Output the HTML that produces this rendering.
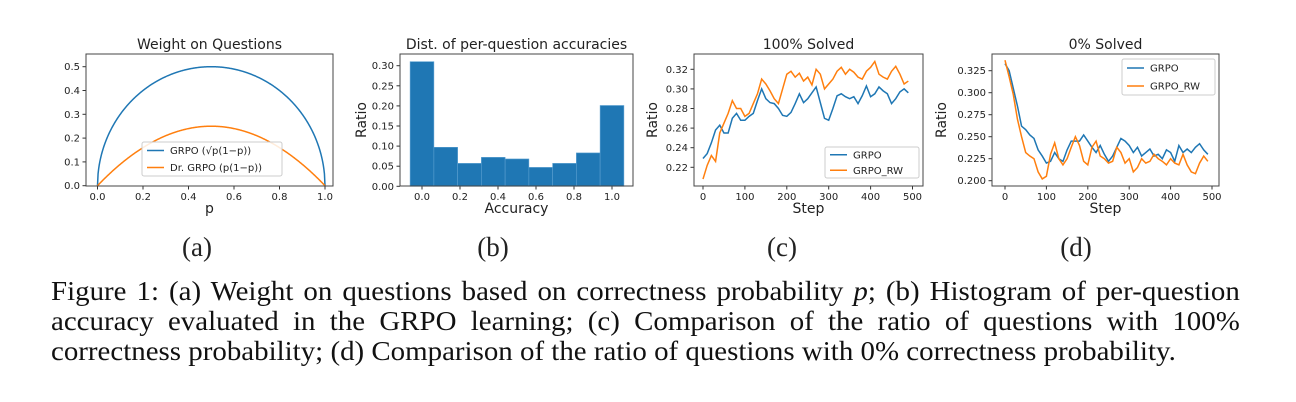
<!DOCTYPE html>
<html><head><meta charset="utf-8"><style>
body{margin:0;background:#fff;width:1296px;height:402px;overflow:hidden;position:relative}
svg text{font-family:"DejaVu Sans","Liberation Sans",sans-serif;fill:#222}
.cap{position:absolute;left:51px;top:276px;width:1110px;transform:scaleX(1.071);transform-origin:0 0;font-family:"Liberation Serif",serif;font-size:27px;line-height:30px;color:#111}
.cap div{white-space:nowrap}
.cap .j{text-align:justify;text-align-last:justify;white-space:normal;height:30px;overflow:visible}
.nw{white-space:nowrap}
</style></head><body>
<svg id="fig" width="1296" height="402" style="position:absolute;left:0;top:0"></svg>
<div class="cap">
<div class="j">Figure 1: (a) Weight on questions based on correctness probability <i>p</i>; (b) Histogram of <span class="nw">per-question</span></div>
<div class="j">accuracy evaluated in the GRPO learning; (c) Comparison of the ratio of questions with 100%</div>
<div>correctness probability; (d) Comparison of the ratio of questions with 0% correctness probability.</div>
</div>
<script>
const histCenters=[0,0.125,0.25,0.375,0.5,0.625,0.75,0.875,1.0];
const histValues=[0.31,0.097,0.057,0.072,0.068,0.047,0.057,0.083,0.201];
const steps=[0,10,20,30,40,50,60,70,80,90,100,110,120,130,140,150,160,170,180,190,200,210,220,230,240,250,260,270,280,290,300,310,320,330,340,350,360,370,380,390,400,410,420,430,440,450,460,470,480,490];
const solved100Grpo=[.229,.234,.245,.258,.263,.255,.255,.270,.275,.268,.268,.272,.275,.288,.300,.290,.286,.285,.280,.273,.272,.276,.285,.295,.286,.290,.296,.302,.286,.270,.268,.280,.293,.295,.292,.290,.292,.285,.293,.303,.292,.295,.302,.298,.295,.285,.290,.297,.300,.296];
const solved100Rw=[.208,.222,.232,.226,.255,.265,.275,.288,.280,.280,.272,.275,.285,.295,.310,.305,.298,.290,.285,.300,.315,.318,.312,.316,.308,.312,.304,.320,.315,.300,.305,.310,.318,.322,.315,.320,.317,.312,.310,.318,.322,.328,.315,.312,.310,.318,.323,.315,.305,.308];
const solved0Grpo=[.333,.325,.305,.285,.262,.258,.252,.248,.235,.228,.220,.222,.232,.225,.222,.235,.245,.245,.245,.252,.245,.238,.232,.240,.230,.222,.228,.238,.248,.245,.240,.232,.238,.228,.232,.236,.228,.230,.225,.235,.232,.222,.240,.232,.236,.232,.238,.242,.235,.230];
const solved0Rw=[.337,.318,.298,.270,.250,.232,.228,.225,.210,.202,.205,.230,.243,.225,.218,.225,.238,.250,.240,.222,.218,.238,.245,.228,.225,.220,.222,.238,.232,.220,.225,.210,.215,.225,.220,.222,.230,.225,.222,.218,.225,.220,.218,.230,.218,.210,.208,.220,.228,.222];
const ticksA_x=[0,0.2,0.4,0.6,0.8,1.0], ticksA_y=[0,0.1,0.2,0.3,0.4,0.5];
const ticksB_x=[0,0.2,0.4,0.6,0.8,1.0], ticksB_y=[0,0.05,0.1,0.15,0.2,0.25,0.3];
const ticksC_x=[0,100,200,300,400,500], ticksC_y=[0.22,0.24,0.26,0.28,0.30,0.32];
const ticksD_x=[0,100,200,300,400,500], ticksD_y=[0.2,0.225,0.25,0.275,0.3,0.325];
const BLUE="#1f77b4",ORANGE="#ff7f0e";
const svg=document.getElementById('fig');const NS="http://www.w3.org/2000/svg";
function mk(tag,at,parent){const e=document.createElementNS(NS,tag);for(const k in at)e.setAttribute(k,at[k]);(parent||svg).appendChild(e);return e;}
function txt(s,x,y,size,anchor,parent){const t=mk('text',{x:x,y:y,'font-size':size,'text-anchor':anchor||'middle'},parent);t.textContent=s;return t;}
function lin(d0,d1,p0,p1){return v=>p0+(v-d0)/(d1-d0)*(p1-p0);}
function axes(name,box,sx,sy,xt,yt,xfmt,yfmt,title,xl,yl,ylx){
 const g=mk('g',{});
 xt.forEach(v=>{const x=sx(v);mk('line',{x1:x,x2:x,y1:box.b,y2:box.b+3.5,stroke:'#333'},g);const t=txt(xfmt(v),x,box.b+14,10,'middle',g);});
 yt.forEach(v=>{const y=sy(v);mk('line',{x1:box.l-3.5,x2:box.l,y1:y,y2:y,stroke:'#333'},g);const t=txt(yfmt(v),box.l-6,y+3.5,10,'end',g);});
 const tt=txt(title,(box.l+box.r)/2,49,14,'middle',g);
 const xa=txt(xl,(box.l+box.r)/2,213,14,'middle',g);
 if(yl){const ya=txt(yl,0,0,14,'middle',g);ya.setAttribute('transform',`translate(${ylx},${(box.t+box.b)/2}) rotate(-90)`);}
 return g;}
function frame(box,g){mk('rect',{x:box.l,y:box.t,width:box.r-box.l,height:box.b-box.t,fill:'none',stroke:'#444','stroke-width':1},g);}
function poly(xs,ys,sx,sy,color,g){return mk('polyline',{points:xs.map((x,i)=>sx(x)+','+sy(ys[i])).join(' '),fill:'none',stroke:color,'stroke-width':1.5},g);}
function legend(g,x,y,w,h,items){const lg=mk('g',{},g);
 mk('rect',{x:x,y:y,width:w,height:h,rx:2,fill:'#fff','fill-opacity':0.85,stroke:'#ccc'},lg);
 items.forEach((it,i)=>{const yy=y+h/(items.length)*(i+0.5);const e=mk('g',{},lg);
 mk('line',{x1:x+5,x2:x+22,y1:yy,y2:yy,stroke:it[1],'stroke-width':1.5},e);txt(it[0],x+28,yy+3.5,10,'start',e);});}
const f1=v=>v.toFixed(1),f2=v=>v.toFixed(2),f3=v=>v.toFixed(3),f0=v=>String(v);
function plab(s,x){const t=txt(s,x,256,27,'middle');t.setAttribute('style','font-family:"Liberation Serif",serif');}
// (a)
{const box={l:86,r:333,t:54,b:186};const sx=lin(0,1,97.5,325),sy=lin(0,0.5,185.7,66.7);
 const g=axes('panel-a-weight',box,sx,sy,ticksA_x,ticksA_y,f1,f1,'Weight on Questions','p',null);
 const ps=[];for(let i=0;i<=400;i++)ps.push(i/400);
 const c1=poly(ps,ps.map(p=>Math.sqrt(p*(1-p))),sx,sy,BLUE,g);
 const c2=poly(ps,ps.map(p=>p*(1-p)),sx,sy,ORANGE,g);
 frame(box,g);
 legend(g,142,142,140,34,[['GRPO (\u221Ap(1\u2212p))',BLUE],['Dr. GRPO (p(1\u2212p))',ORANGE]]);
 plab('(a)',197);}
// (b)
{const box={l:400,r:633,t:54,b:186};const sx=lin(0,1,422,612),sy=lin(0,0.3,186.3,65.7);
 const g=axes('panel-b-histogram',box,sx,sy,ticksB_x,ticksB_y,f1,f2,'Dist. of per-question accuracies','Accuracy','Ratio',366);
 const w=0.125;histCenters.forEach((c,i)=>{const b=mk('rect',{x:sx(c-w/2),y:sy(histValues[i]),width:sx(c+w/2)-sx(c-w/2),height:sy(0)-sy(histValues[i]),fill:BLUE,stroke:'#5a9fd0','stroke-width':0.6},g);
 });
 frame(box,g);
 plab('(b)',493);}
// (c)
{const box={l:694,r:923,t:54,b:186};const sx=lin(0,500,703,912.5),sy=lin(0.22,0.32,167.3,69.3);
 const g=axes('panel-c-100-solved',box,sx,sy,ticksC_x,ticksC_y,f0,f2,'100% Solved','Step','Ratio',657);
 const a=poly(steps,solved100Grpo,sx,sy,BLUE,g);
 const b=poly(steps,solved100Rw,sx,sy,ORANGE,g);
 frame(box,g);legend(g,825,147,94,31,[['GRPO',BLUE],['GRPO_RW',ORANGE]]);
 plab('(c)',782);}
// (d)
{const box={l:992,r:1219,t:54,b:186};const sx=lin(0,500,1005,1212),sy=lin(0.2,0.325,180.7,70.7);
 const g=axes('panel-d-0-solved',box,sx,sy,ticksD_x,ticksD_y,f0,f3,'0% Solved','Step','Ratio',946);
 const a=poly(steps,solved0Grpo,sx,sy,BLUE,g);
 const b=poly(steps,solved0Rw,sx,sy,ORANGE,g);
 frame(box,g);legend(g,1122,59,93,36,[['GRPO',BLUE],['GRPO_RW',ORANGE]]);
 plab('(d)',1076);}
</script>
</body></html>
